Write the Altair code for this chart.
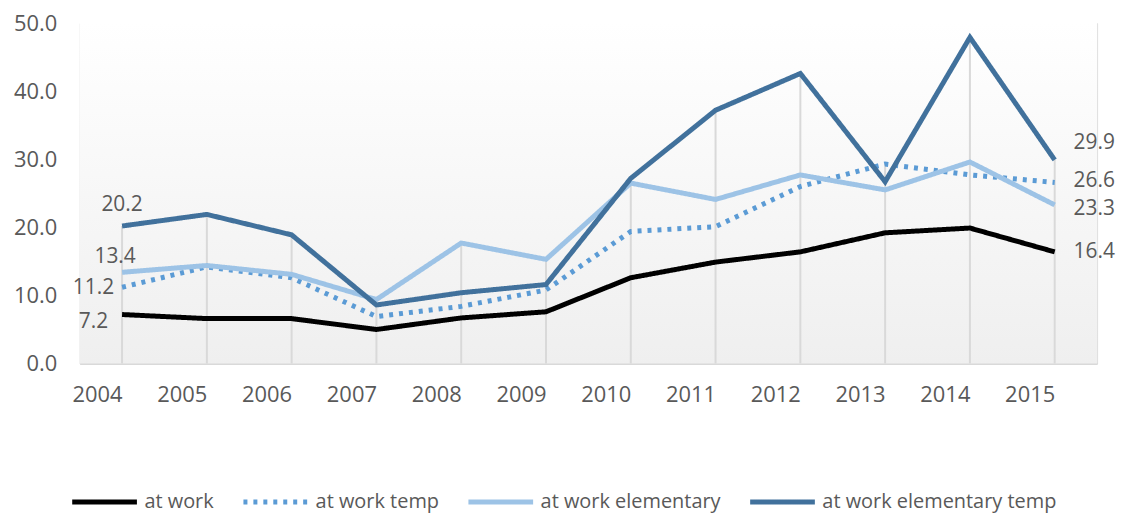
import altair as alt
import pandas as pd

years = ["2004", "2005", "2006", "2007", "2008", "2009", "2010", "2011", "2012", "2013", "2014", "2015"]
series_names = ["at work", "at work temp", "at work elementary", "at work elementary temp"]
at_work = [7.2, 6.6, 6.6, 5.0, 6.7, 7.6, 12.6, 14.9, 16.4, 19.2, 19.9, 16.4]
at_work_temp = [11.2, 14.2, 12.6, 6.9, 8.4, 10.8, 19.4, 20.1, 26.0, 29.3, 27.7, 26.6]
at_work_elem = [13.4, 14.4, 13.1, 9.4, 17.7, 15.3, 26.5, 24.1, 27.7, 25.5, 29.6, 23.3]
at_work_elem_temp = [20.2, 21.9, 18.9, 8.6, 10.4, 11.6, 27.2, 37.2, 42.6, 26.7, 47.9, 29.9]
colors = ["#000000", "#5b9bd5", "#9dc3e6", "#41719c"]
dashes = [[1, 0], [4, 6], [1, 0], [1, 0]]

W, H = 1022, 342
FONT = "Open Sans"
TXT = "#595959"

all_vals = [at_work, at_work_temp, at_work_elem, at_work_elem_temp]
rows = []
for name, vals in zip(series_names, all_vals):
    for y, v in zip(years, vals):
        rows.append({"year": y, "series": name, "value": v})
df = pd.DataFrame(rows)

drop = pd.DataFrame({"year": years, "top": [max(v) for v in zip(*all_vals)]})

xscale = alt.Scale(type="point", padding=0.5)
xenc = alt.X("year:O", scale=xscale,
             axis=alt.Axis(title=None, ticks=False, grid=False, labelAngle=0,
                           labelPadding=31, domainColor="#d9d9d9", domainWidth=2,
                           labelFont=FONT, labelFontSize=22, labelColor=TXT))
yscale = alt.Scale(domain=[0, 50])
yenc = alt.Y("value:Q", scale=yscale,
             axis=alt.Axis(title=None, values=[0, 10, 20, 30, 40, 50], format=".1f",
                           grid=False, ticks=False, domain=False, labelPadding=23,
                           labelFont=FONT, labelFontSize=22, labelColor=TXT))

bg = alt.Chart(pd.DataFrame({"a": [0]})).mark_rect(
    fill=alt.Gradient(gradient="linear", x1=0, y1=0, x2=0, y2=1,
                      stops=[alt.GradientStop(offset=0, color="#ffffff"),
                             alt.GradientStop(offset=0.13, color="#fdfdfd"),
                             alt.GradientStop(offset=1, color="#efefef")])
).encode(x=alt.value(0), x2=alt.value(W), y=alt.value(0), y2=alt.value(H))

rules = alt.Chart(drop).mark_rule(color="#d9d9d9", strokeWidth=2).encode(
    x=alt.X("year:O", scale=xscale),
    y=alt.Y("top:Q", scale=yscale),
    y2=alt.datum(0),
)

lines = alt.Chart(df).mark_line(strokeWidth=5, strokeJoin="miter").encode(
    x=xenc,
    y=yenc,
    color=alt.Color("series:N", sort=series_names,
                    scale=alt.Scale(domain=series_names, range=colors),
                    legend=alt.Legend(title=None, orient="none", direction="horizontal",
                                      legendX=-10, legendY=446,
                                      symbolType="stroke", symbolSize=4225,
                                      symbolStrokeWidth=5, labelOffset=5,
                                      columnPadding=19, labelLimit=400,
                                      labelFont=FONT, labelFontSize=20, labelColor=TXT)),
    strokeDash=alt.StrokeDash("series:N", sort=series_names,
                              scale=alt.Scale(domain=series_names, range=dashes),
                              legend=None),
    detail="series:N",
)

label_specs = [
    ("at work elementary temp", "2004", "center", 0, -21),
    ("at work elementary", "2004", "center", -7, -15),
    ("at work temp", "2004", "right", -8, 1),
    ("at work", "2004", "right", -14, 8),
    ("at work elementary temp", "2015", "left", 19, -17),
    ("at work temp", "2015", "left", 19, -1),
    ("at work elementary", "2015", "left", 19, 4),
    ("at work", "2015", "left", 19, 0),
]
texts = []
for s, yr, al, dx, dy in label_specs:
    t = alt.Chart(df).transform_filter(
        (alt.datum.series == s) & (alt.datum.year == yr)
    ).mark_text(align=al, baseline="middle", dx=dx, dy=dy, font=FONT,
                fontSize=21, color=TXT).encode(
        x=alt.X("year:O", scale=xscale),
        y=alt.Y("value:Q", scale=yscale),
        text=alt.Text("value:Q", format=".1f"),
    )
    texts.append(t)

chart = alt.layer(bg, rules, lines, *texts).properties(
    width=W, height=H,
    autosize=alt.AutoSizeParams(type="none"),
    padding={"left": 72, "top": 14, "right": 20, "bottom": 155},
).configure_view(stroke=None).configure(background="#ffffff")

chart.save("out.html", embed_options={"renderer": "svg", "actions": False})
